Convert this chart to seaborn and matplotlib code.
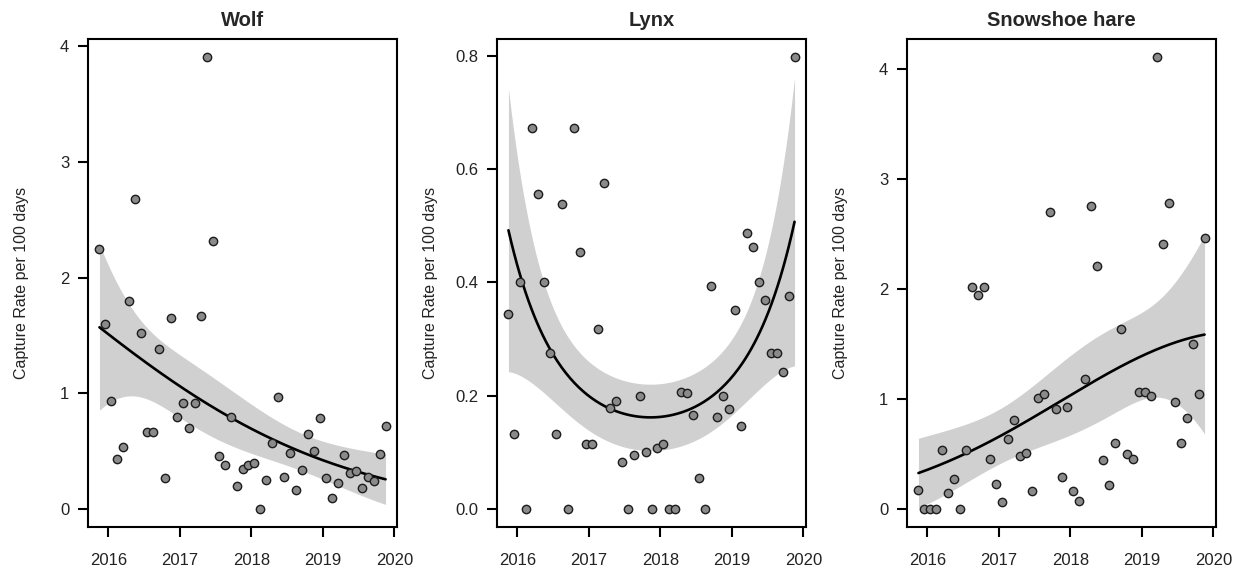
import numpy as np
import pandas as pd
import matplotlib
matplotlib.use("Agg")
import matplotlib.pyplot as plt
import seaborn as sns

# Monthly sampling occasions, Nov 2015 - Nov 2019 (plotted at mid-month)
months = pd.date_range("2015-11-01", "2019-11-01", freq="MS")
decimal_year = np.asarray(months.year + (months.month - 0.5) / 12.0, dtype=float)

# Capture rate per 100 trap days, one value per month
wolf = [2.246, 1.603,
        0.934, 0.428, 0.537, 1.799, 2.684, 1.520, 0.667, 0.667, 1.382, 0.267, 1.652, 0.793,
        0.917, 0.701, 0.917, 1.667, 3.907, 2.313, 0.457, 0.376, 0.796, 0.201, 0.342, 0.376,
        0.397, 0.000, 0.247, 0.569, 0.968, 0.276, 0.486, 0.161, 0.339, 0.652, 0.503, 0.790,
        0.264, 0.095, 0.221, 0.463, 0.307, 0.325, 0.181, 0.273, 0.238, 0.474, 0.721]
lynx = [0.344, 0.133,
        0.400, 0.000, 0.673, 0.556, 0.400, 0.275, 0.133, 0.538, 0.000, 0.673, 0.454, 0.114,
        0.114, 0.317, 0.576, 0.179, 0.190, 0.083, 0.000, 0.095, 0.199, 0.100, 0.000, 0.107,
        0.114, 0.000, 0.000, 0.207, 0.204, 0.166, 0.054, 0.000, 0.393, 0.163, 0.200, 0.176,
        0.351, 0.146, 0.487, 0.463, 0.400, 0.369, 0.275, 0.275, 0.241, 0.376, 0.798]
hare = [0.173, 0.000,
        0.000, 0.000, 0.538, 0.143, 0.270, 0.000, 0.538, 2.015, 1.942, 2.015, 0.453, 0.231,
        0.061, 0.638, 0.805, 0.477, 0.511, 0.167, 1.012, 1.046, 2.700, 0.906, 0.286, 0.924,
        0.167, 0.070, 1.179, 2.750, 2.203, 0.447, 0.219, 0.602, 1.638, 0.495, 0.453, 1.058,
        1.058, 1.030, 4.106, 2.403, 2.779, 0.970, 0.599, 0.830, 1.495, 1.040, 2.464]

species = ["Wolf", "Lynx", "Snowshoe hare"]
series = [wolf, lynx, hare]
smoother_degree = [2, 2, 2]
y_ticks = [[0, 1, 2, 3, 4], [0.0, 0.2, 0.4, 0.6, 0.8], [0, 1, 2, 3, 4]]
y_ticklabels = [["0", "1", "2", "3", "4"],
                ["0.0", "0.2", "0.4", "0.6", "0.8"],
                ["0", "1", "2", "3", "4"]]
x_ticks = [2016, 2017, 2018, 2019, 2020]


def quasi_poisson_trend(x, y, degree, grid):
    """Log-link polynomial trend (quasi-Poisson IRLS) with a 95% band on the response scale."""
    centre, scale = x.mean(), x.std()
    X = np.vander((x - centre) / scale, degree + 1, increasing=True)
    beta = np.zeros(degree + 1)
    beta[0] = np.log(y.mean())
    for _ in range(200):
        eta = X @ beta
        mu = np.exp(eta)
        z = eta + (y - mu) / mu
        XtW = X.T * mu
        new = np.linalg.solve(XtW @ X, XtW @ z)
        done = np.max(np.abs(new - beta)) < 1e-12
        beta = new
        if done:
            break
    mu = np.exp(X @ beta)
    # deviance-based dispersion
    ylogy = np.where(y > 0, y * np.log(np.where(y > 0, y, 1.0) / mu), 0.0)
    deviance = 2.0 * np.sum(ylogy - (y - mu))
    phi = deviance / (len(y) - X.shape[1])
    cov = phi * np.linalg.inv((X.T * mu) @ X)
    G = np.vander((grid - centre) / scale, degree + 1, increasing=True)
    fit = np.exp(G @ beta)
    se = fit * np.sqrt(np.einsum("ij,jk,ik->i", G, cov, G))
    return fit, fit - 1.96 * se, fit + 1.96 * se


sns.set_theme(style="ticks")
plt.rcParams["font.family"] = ["Liberation Sans", "DejaVu Sans"]
plt.rcParams["axes.edgecolor"] = "black"
plt.rcParams["xtick.color"] = "black"
plt.rcParams["ytick.color"] = "black"
plt.rcParams["xtick.labelcolor"] = "#222222"
plt.rcParams["ytick.labelcolor"] = "#222222"

W, H = 1236, 568
fig = plt.figure(figsize=(W / 100, H / 100), dpi=100)
panel_left = [88, 497, 907]
top_px, bottom_px, width_px = 39, 527, 309

grid = np.linspace(decimal_year.min(), decimal_year.max(), 200)
x_span = decimal_year.max() - decimal_year.min()

for k, (name, values) in enumerate(zip(species, series)):
    ax = fig.add_axes([panel_left[k] / W, (H - bottom_px) / H,
                       width_px / W, (bottom_px - top_px) / H])
    y = np.asarray(values, dtype=float)
    df = pd.DataFrame({"year": decimal_year, "rate": y})

    fit, lo, hi = quasi_poisson_trend(decimal_year, y, smoother_degree[k], grid)
    trend = pd.DataFrame({"year": grid, "fit": fit})

    ax.fill_between(grid, lo, hi, color="#d0d0d0", linewidth=0, zorder=1)
    sns.lineplot(data=trend, x="year", y="fit", ax=ax, color="black",
                 linewidth=1.9, zorder=2)
    sns.scatterplot(data=df, x="year", y="rate", ax=ax, s=36,
                    color="#8a8a8a", edgecolor="#1c1c1c", linewidth=1.0,
                    zorder=3)

    y_span = y.max() - y.min()
    ax.set_xlim(decimal_year.min() - 0.04 * x_span, decimal_year.max() + 0.04 * x_span)
    ax.set_ylim(y.min() - 0.04 * y_span, y.max() + 0.04 * y_span)
    ax.set_xticks(x_ticks)
    ax.set_xticklabels([str(t) for t in x_ticks])
    ax.set_yticks(y_ticks[k])
    ax.set_yticklabels(y_ticklabels[k])

    for side in ["left", "right", "top", "bottom"]:
        ax.spines[side].set_visible(True)
        ax.spines[side].set_linewidth(1.5)
        ax.spines[side].set_color("black")
    ax.tick_params(axis="both", direction="out", length=7.5, width=1.5,
                   labelsize=12)
    ax.tick_params(axis="x", pad=11)
    ax.tick_params(axis="y", pad=6)

    ax.set_title(name, fontsize=14.5, fontweight="bold", pad=9)
    ax.set_xlabel("")
    ax.set_ylabel("Capture Rate per 100 days", fontsize=11.5, color="#222222")
    ax.yaxis.set_label_coords(-59 / width_px, 0.5)

fig.savefig("out.png", dpi=100)
